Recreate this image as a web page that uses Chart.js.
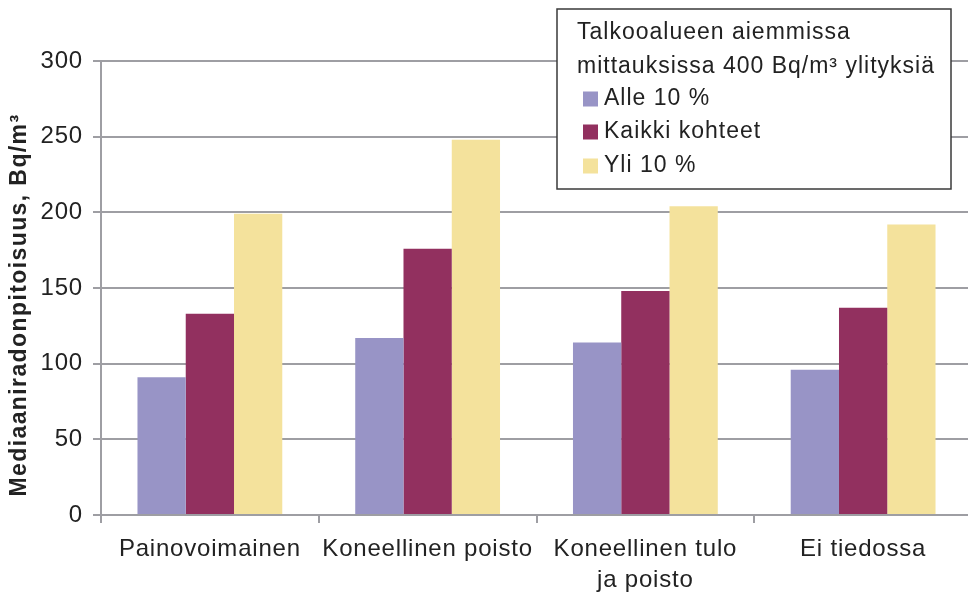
<!DOCTYPE html>
<html>
<head>
<meta charset="utf-8">
<script src="https://cdn.jsdelivr.net/npm/chart.js@4.4.0/dist/chart.umd.min.js"></script>
<style>
  html, body { margin: 0; padding: 0; background: #fff; overflow: hidden; }
  #wrap { position: relative; width: 972px; height: 593px; }
</style>
</head>
<body>
<div id="wrap"><canvas id="radonChart"></canvas></div>
<script>
// Values.
const CATEGORIES = ['Painovoimainen', 'Koneellinen poisto', ['Koneellinen tulo', 'ja poisto'], 'Ei tiedossa'];
const ALLE_10 = [91, 117, 114, 96];
const KAIKKI = [133, 176, 148, 137];
const YLI_10 = [199, 248, 204, 192];
const SERIES_LABELS = ['Alle 10 %', 'Kaikki kohteet', 'Yli 10 %'];
const Y_MIN = 0;
const Y_MAX = 300;
const Y_STEP = 50;
const Y_TITLE = 'Mediaaniradonpitoisuus, Bq/m³';
const LEGEND_TITLE = ['Talkooalueen aiemmissa', 'mittauksissa 400 Bq/m³ ylityksiä'];

const COLOR_ALLE = '#9894c6';
const COLOR_KAIKKI = '#92305f';
const COLOR_YLI = '#f4e29c';
const COLOR_GRID = '#9e9ea3';
const COLOR_TEXT = '#222222';
const FONT = "'Liberation Sans', Arial, sans-serif";

// Chart.js has no letter-spacing option; the source font runs wider than Arial.
const letterSpacing = {
  id: 'letterSpacing',
  beforeUpdate(chart) { chart.ctx.letterSpacing = '0.8px'; },
  beforeDraw(chart) { chart.ctx.letterSpacing = '0.8px'; }
};

// Rotated axis title and the boxed legend with its two-line heading.
const annotations = {
  id: 'annotations',
  afterDraw(chart) {
    const { ctx } = chart;
    const sets = chart.data.datasets;

    ctx.save();
    ctx.fillStyle = COLOR_TEXT;
    ctx.letterSpacing = '1.4px';
    ctx.font = `bold 23px ${FONT}`;
    ctx.textAlign = 'center';
    ctx.textBaseline = 'middle';
    ctx.translate(20, 305);
    ctx.rotate(-Math.PI / 2);
    ctx.fillText(Y_TITLE, 0, 0);
    ctx.restore();

    ctx.save();
    ctx.fillStyle = '#ffffff';
    ctx.fillRect(557, 9, 394, 180);
    ctx.strokeStyle = '#3a3a3a';
    ctx.lineWidth = 1.5;
    ctx.strokeRect(557, 9, 394, 180);

    ctx.letterSpacing = '1px';
    ctx.font = `23px ${FONT}`;
    ctx.fillStyle = COLOR_TEXT;
    ctx.textAlign = 'left';
    ctx.textBaseline = 'middle';
    ctx.fillText(LEGEND_TITLE[0], 577, 33);
    ctx.fillText(LEGEND_TITLE[1], 577, 67);

    const rows = [99, 132, 166];
    sets.forEach((ds, i) => {
      ctx.fillStyle = ds.backgroundColor;
      ctx.fillRect(583, rows[i] - 7.5, 15, 15);
      ctx.fillStyle = COLOR_TEXT;
      ctx.fillText(ds.label, 604, rows[i]);
    });
    ctx.restore();
  }
};

new Chart(document.getElementById('radonChart'), {
  type: 'bar',
  data: {
    labels: CATEGORIES,
    datasets: [
      { label: SERIES_LABELS[0], data: ALLE_10, backgroundColor: COLOR_ALLE },
      { label: SERIES_LABELS[1], data: KAIKKI, backgroundColor: COLOR_KAIKKI },
      { label: SERIES_LABELS[2], data: YLI_10, backgroundColor: COLOR_YLI }
    ]
  },
  options: {
    responsive: true,
    maintainAspectRatio: false,
    animation: false,
    layout: { padding: { top: 61, right: 0, bottom: 0, left: 0 } },
    datasets: { bar: { categoryPercentage: 0.665, barPercentage: 1.0, borderWidth: 0 } },
    plugins: { legend: { display: false }, tooltip: { enabled: false } },
    scales: {
      x: {
        offset: true,
        afterFit(scale) { scale.height = 78; },
        grid: { offset: true, drawOnChartArea: false, drawTicks: true, tickLength: 8, color: COLOR_GRID, lineWidth: 2 },
        border: { color: COLOR_GRID, width: 2 },
        ticks: { color: COLOR_TEXT, font: { family: FONT, size: 24, lineHeight: 1.3 }, padding: 11, maxRotation: 0, autoSkip: false }
      },
      y: {
        min: Y_MIN,
        max: Y_MAX,
        afterFit(scale) { scale.width = 101; },
        grid: { color: COLOR_GRID, lineWidth: 2, drawTicks: true, tickLength: 8 },
        border: { color: COLOR_GRID, width: 2 },
        ticks: { stepSize: Y_STEP, color: COLOR_TEXT, font: { family: FONT, size: 24 }, padding: 10 }
      }
    }
  },
  plugins: [letterSpacing, annotations]
});
</script>
</body>
</html>
